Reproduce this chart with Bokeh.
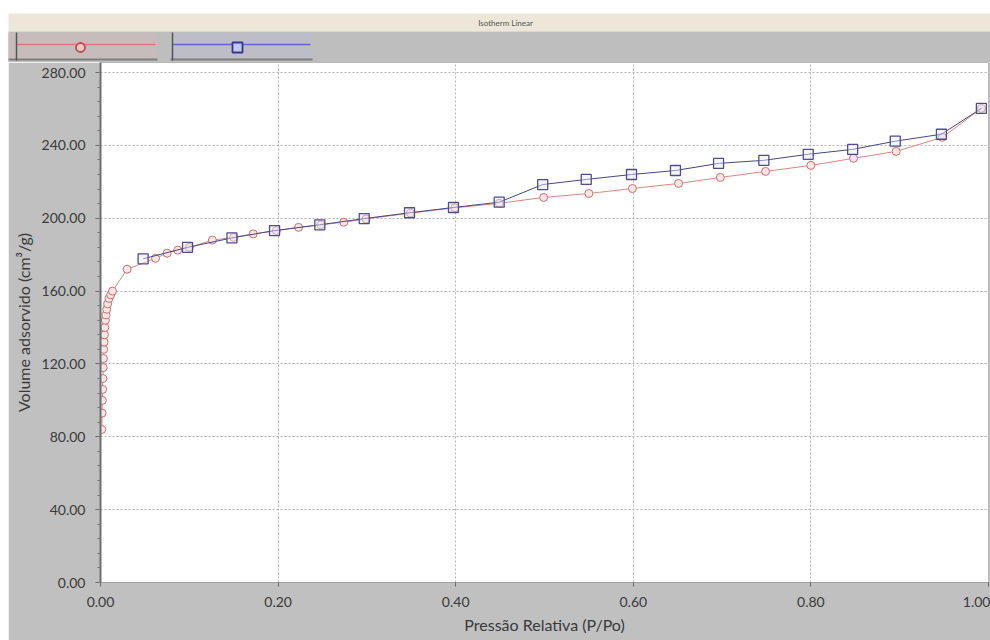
from bokeh.plotting import figure
from bokeh.layouts import column, row
from bokeh.models import Range1d, FixedTicker, NumeralTickFormatter, Spacer
from bokeh.core.properties import value
from bokeh.embed import file_html
from bokeh.resources import INLINE

# ---- data ----
ads_p = [0.0015, 0.0018, 0.0021, 0.0024, 0.0027, 0.0030, 0.0033, 0.0036, 0.0040,
         0.0044, 0.0049, 0.0055, 0.0062, 0.0070, 0.0080, 0.0095, 0.0115, 0.0135,
         0.030, 0.062, 0.075, 0.087, 0.100, 0.126, 0.150, 0.172, 0.198, 0.223,
         0.248, 0.274, 0.299, 0.349, 0.399, 0.449, 0.499, 0.550, 0.599, 0.651,
         0.698, 0.749, 0.800, 0.848, 0.896, 0.948, 0.992]
ads_v = [84, 93, 100, 106, 112, 118, 123, 128, 132,
         136, 140, 144, 147, 150, 153, 156, 158, 160,
         172, 178, 180.8, 182.5, 184, 188, 189.5, 191.4, 193.2, 195,
         196.4, 197.8, 199.6, 202.8, 205.7, 208.2, 211.4, 213.6, 216.3, 219.1,
         222.4, 225.7, 229.0, 232.9, 236.7, 244.4, 260.3]

des_p = [0.992, 0.947, 0.895, 0.847, 0.797, 0.747, 0.696, 0.6475, 0.598, 0.547,
         0.498, 0.449, 0.3975, 0.348, 0.297, 0.247, 0.196, 0.148, 0.098, 0.048]
des_v = [260.3, 246.1, 242.3, 237.8, 235.1, 231.8, 230.1, 226.2, 224.0, 221.3,
         218.5, 208.8, 205.9, 203.0, 199.8, 196.4, 193.2, 189.2, 184.0, 177.7]

x_ticks = [0.0, 0.2, 0.4, 0.6, 0.8, 1.0]
y_ticks = [0, 40, 80, 120, 160, 200, 240, 280]
y_minor = [v for v in range(0, 286, 8)]

title_text = "Isotherm Linear"
x_title = "Pressão Relativa (P/Po)"
y_title = "Volume adsorvido (cm³/g)"

FONT = "Lato"
GRAY = "#c0c0c0"

# ---- header strip (title bar + legend toolbar), pixel coordinates ----
hdr = figure(width=990, height=62, x_range=Range1d(0, 990), y_range=Range1d(62, 0),
             toolbar_location=None, output_backend="svg", min_border=0)
hdr.axis.visible = False
hdr.grid.visible = False
hdr.outline_line_color = None
hdr.background_fill_color = "white"
hdr.border_fill_color = "white"

hdr.quad(left=[8], right=[990], top=[13], bottom=[31], fill_color="#ece7d8", line_color=None)
hdr.quad(left=[8], right=[990], top=[31], bottom=[62], fill_color="#bebebe", line_color=None)
hdr.quad(left=[8], right=[157], top=[32], bottom=[60], fill_color="#c6bcbc", line_color=None)
hdr.quad(left=[170], right=[312], top=[32], bottom=[60], fill_color="#bdbdc8", line_color=None)
hdr.segment(x0=[16, 172], y0=[44, 44], x1=[155, 310], y1=[44, 44],
            line_color=["#e07878", "#6464cc"], line_width=1.5)
hdr.segment(x0=[8, 170], y0=[59, 59], x1=[157, 312], y1=[59, 59],
            line_color="#7e7e7e", line_width=2)
hdr.segment(x0=[16, 172], y0=[32, 32], x1=[16, 172], y1=[60, 60],
            line_color="#555555", line_width=1.5)
hdr.scatter(x=[80], y=[47], marker="circle", size=9, line_color="#b85050",
            fill_color="#e8c8c8", line_width=1.8)
hdr.scatter(x=[237], y=[47], marker="square", size=10, line_color="#38388a",
            fill_color="#c8c8e8", line_width=1.8)
hdr.text(x=[505], y=[22], text=[title_text], text_font=value(FONT),
         text_font_size="8px", text_color="#555555", text_align="center",
         text_baseline="middle")

# ---- main plot ----
p = figure(width=982, height=578, x_range=Range1d(0, 1.0), y_range=Range1d(0, 285.5),
           toolbar_location=None, output_backend="svg",
           min_border_left=92, min_border_right=2, min_border_top=0, min_border_bottom=58)
p.background_fill_color = "white"
p.border_fill_color = GRAY
p.outline_line_color = "#b8b8b8"

p.xaxis.ticker = FixedTicker(ticks=x_ticks)
p.yaxis.ticker = FixedTicker(ticks=y_ticks, minor_ticks=y_minor)
p.xaxis.formatter = NumeralTickFormatter(format="0.00")
p.yaxis.formatter = NumeralTickFormatter(format="0.00")

for ax in (p.xaxis[0], p.yaxis[0]):
    ax.major_label_text_font = FONT
    ax.major_label_text_font_size = "14px"
    ax.major_label_text_color = "#3a3a3a"
    ax.axis_label_text_font = FONT
    ax.axis_label_text_font_size = "16px"
    ax.axis_label_text_font_style = "normal"
    ax.axis_label_text_color = "#3a3a3a"
    ax.major_tick_line_color = "#666666"
    ax.major_tick_in = 0

p.xaxis.axis_label = x_title
p.yaxis.axis_label = y_title

p.yaxis.axis_line_color = "#6e6e6e"
p.yaxis.axis_line_width = 2
p.yaxis.major_tick_out = 5
p.yaxis.minor_tick_out = 3
p.yaxis.minor_tick_in = 0
p.yaxis.minor_tick_line_color = "#777777"
p.yaxis.major_label_standoff = 10
p.yaxis.axis_label_standoff = 6

p.xaxis.axis_line_color = "#a0a0a0"
p.xaxis.major_tick_out = 4
p.xaxis.minor_tick_line_color = None
p.xaxis.major_label_standoff = 10
p.xaxis.axis_label_standoff = 5

p.xgrid.ticker = FixedTicker(ticks=x_ticks)
p.ygrid.ticker = FixedTicker(ticks=y_ticks)
p.grid.grid_line_color = "#b4b4b4"
p.grid.grid_line_dash = "2 2"
p.grid.grid_line_width = 1

# adsorption (red circles)
p.line(ads_p, ads_v, line_color="#d98880", line_width=1)
p.scatter(ads_p, ads_v, marker="circle", size=8, line_color="#c87070",
          fill_color="#f6e6e6", line_width=1)
# desorption (blue squares)
p.line(des_p, des_v, line_color="#464684", line_width=1)
p.scatter(des_p, des_v, marker="square", size=10, line_color="#4e4e8c",
          fill_color="#e8e8f4", fill_alpha=0.45, line_width=1.3)

layout = column(hdr, row(Spacer(width=8, height=578), p))

open("out.html", "w").write(file_html(layout, INLINE))
